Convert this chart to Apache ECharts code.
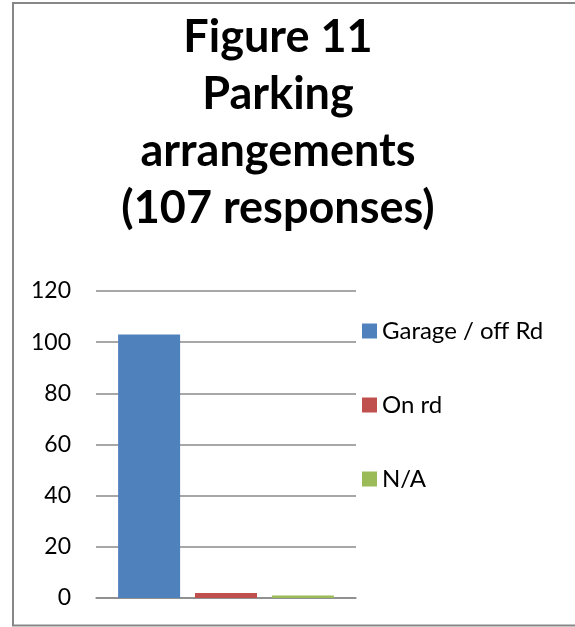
<!DOCTYPE html>
<html>
<head>
<meta charset="utf-8">
<script src="https://cdn.jsdelivr.net/npm/echarts@6/dist/echarts.min.js"></script>
<style>
html,body{margin:0;padding:0;background:#fff;}
#chart{width:575px;height:627px;}
</style>
</head>
<body>
<div id="chart"></div>
<script>
const titleLines = ['Figure 11', 'Parking', 'arrangements', '(107 responses)'];
const categories = [''];
const seriesNames = ['Garage / off Rd', 'On rd', 'N/A'];
const seriesValues = [[103], [2], [1]];
const seriesColors = ['#4F81BD', '#C0504D', '#9BBB59'];
const yTicks = {min: 0, max: 120, interval: 20};

const chart = echarts.init(document.getElementById('chart'));
const FONT = 'Lato';
chart.setOption({
  animation: false,
  backgroundColor: '#fff',
  title: {
    text: titleLines.join('\n'),
    left: 278,
    top: 9,
    padding: 0,
    textAlign: 'center',
    textStyle: {fontFamily: FONT, fontWeight: 'bold', fontSize: 45, lineHeight: 57, color: '#000'}
  },
  graphic: [{
    type: 'rect', silent: true, z: -1,
    shape: {x: 13, y: 3, width: 620, height: 622.5},
    style: {fill: 'none', stroke: '#878787', lineWidth: 2}
  }],
  legend: {
    orient: 'vertical',
    left: 362,
    top: 319,
    padding: 0,
    itemWidth: 15,
    itemHeight: 15,
    itemGap: 50,
    itemTextGap: 6,
    icon: 'rect',
    data: seriesNames,
    textStyle: {fontFamily: FONT, fontSize: 24, lineHeight: 24, color: '#000'}
  },
  grid: {left: 96, top: 291, width: 260, height: 307, containLabel: false},
  xAxis: {
    type: 'category',
    data: categories,
    axisLine: {show: true, lineStyle: {color: '#8a8a8a', width: 1.5}},
    axisTick: {show: false},
    axisLabel: {show: false}
  },
  yAxis: {
    type: 'value',
    min: yTicks.min, max: yTicks.max, interval: yTicks.interval,
    axisLine: {show: false},
    axisTick: {show: false},
    axisLabel: {fontFamily: FONT, fontSize: 23, color: '#000', margin: 25},
    splitLine: {lineStyle: {color: '#8a8a8a', width: 1.5}}
  },
  series: seriesNames.map((name, i) => ({
    name: name,
    type: 'bar',
    data: seriesValues[i],
    barWidth: 62,
    barGap: '24%',
    itemStyle: {color: seriesColors[i]}
  }))
});
</script>
</body>
</html>
